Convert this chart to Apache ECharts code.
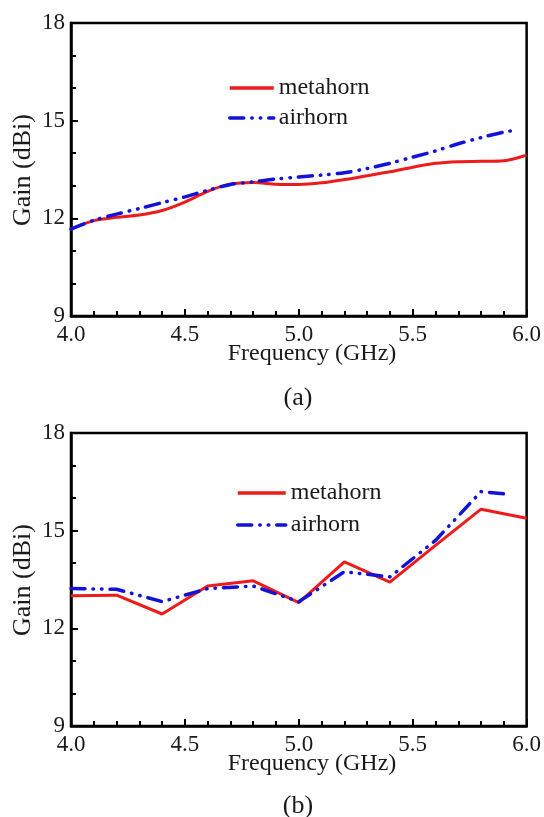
<!DOCTYPE html>
<html>
<head>
<meta charset="utf-8">
<script src="https://cdn.jsdelivr.net/npm/echarts@6/dist/echarts.min.js"></script>
<style>html,body{margin:0;padding:0;background:#fff}#c{width:544px;height:817px}</style>
</head>
<body>
<div id="c"></div>
<script>
// ---- data ----
const freqA    = [4.0,4.1,4.2,4.3,4.4,4.5,4.6,4.7,4.8,4.9,5.0,5.1,5.2,5.3,5.4,5.5,5.6,5.7,5.8,5.9,6.0];
const metaA    = [11.67,11.93,12.03,12.10,12.24,12.50,12.83,13.05,13.10,13.05,13.04,13.09,13.19,13.31,13.43,13.57,13.69,13.74,13.75,13.77,13.94];
const airFreqA = [4.0,4.1,4.2,4.3,4.4,4.5,4.6,4.7,4.8,4.9,5.0,5.1,5.2,5.3,5.4,5.5,5.6,5.7,5.8,5.9,5.95];
const airA     = [11.67,11.94,12.13,12.30,12.48,12.66,12.86,13.04,13.12,13.21,13.27,13.33,13.40,13.53,13.69,13.88,14.07,14.29,14.48,14.65,14.70];
const freqB    = [4.0,4.2,4.4,4.6,4.8,5.0,5.2,5.4,5.6,5.8,6.0];
const metaB    = [13.00,13.02,12.44,13.30,13.46,12.79,14.04,13.42,14.55,15.66,15.38];
const airFreqB = [4.0,4.2,4.4,4.6,4.8,5.0,5.2,5.4,5.6,5.8,5.9];
const airB     = [13.22,13.20,12.82,13.22,13.30,12.82,13.74,13.58,14.70,16.20,16.13];
const xTicks = {min:4.0, max:6.0, step:0.5};
const yTicks = {min:9, max:18, step:3};
const seriesNames = ['metahorn','airhorn'];

const pair = (xs, ys) => xs.map((x,i)=>[x, ys[i]]);
const FONT = 'Liberation Serif, Times New Roman, serif';
const TXT = '#1a1a1a';
const RED = '#ee1b1b';
const BLUE = '#1212d8';

function xAx(gi){
  return {type:'value', gridIndex:gi, min:xTicks.min, max:xTicks.max, interval:xTicks.step,
    axisLine:{onZero:false, lineStyle:{color:'#000', width:2.5}},
    axisTick:{inside:true, length:7, lineStyle:{color:'#000', width:2}},
    minorTick:{show:true, splitNumber:5, length:5, lineStyle:{color:'#000', width:2}},
    splitLine:{show:false},
    axisLabel:{fontFamily:FONT, fontSize:23, color:TXT, margin:7, formatter:v=>v.toFixed(1)}};
}
function yAx(gi){
  return {type:'value', gridIndex:gi, min:yTicks.min, max:yTicks.max, interval:yTicks.step,
    axisLine:{show:true, onZero:false, lineStyle:{color:'#000', width:2.5}},
    axisTick:{show:true, inside:true, length:7, lineStyle:{color:'#000', width:2}},
    minorTick:{show:true, splitNumber:3, length:5, lineStyle:{color:'#000', width:2}},
    splitLine:{show:false},
    axisLabel:{fontFamily:FONT, fontSize:23, color:TXT, margin:6}};
}
const redStyle = {color:RED, width:3, type:'solid'};
const blueStyle = {color:BLUE, width:3.5, type:[14,8,0.5,8,0.5,8], cap:'round'};
const legendCommon = {orient:'vertical', padding:0, itemHeight:14,
  itemStyle:{color:'rgba(0,0,0,0)', borderWidth:0, opacity:0},
  lineStyle:{width:3.5},
  textStyle:{fontFamily:FONT, fontSize:24, color:TXT, lineHeight:24}};

const option = {
  animation:false,
  backgroundColor:'#fff',
  grid:[
    {left:71, top:23, width:456, height:293, show:true, borderColor:'#000', borderWidth:2.5, backgroundColor:'transparent'},
    {left:71, top:433, width:456, height:293, show:true, borderColor:'#000', borderWidth:2.5, backgroundColor:'transparent'}
  ],
  xAxis:[xAx(0), xAx(1)],
  yAxis:[yAx(0), yAx(1)],
  legend:[
    Object.assign({data:seriesNames, left:228, top:76, itemWidth:44, itemGap:6}, legendCommon),
    Object.assign({data:seriesNames, left:236, top:481, itemWidth:48, itemGap:8}, legendCommon)
  ],
  series:[
    {name:seriesNames[0], type:'line', xAxisIndex:0, yAxisIndex:0, data:pair(freqA, metaA), smooth:0.3, symbol:'none', lineStyle:redStyle, itemStyle:{color:RED}, z:3},
    {name:seriesNames[1], type:'line', xAxisIndex:0, yAxisIndex:0, data:pair(airFreqA, airA), smooth:0.3, symbol:'none', lineStyle:blueStyle, itemStyle:{color:BLUE}, z:4},
    {name:seriesNames[0], type:'line', xAxisIndex:1, yAxisIndex:1, data:pair(freqB, metaB), symbol:'none', lineStyle:redStyle, itemStyle:{color:RED}, z:3},
    {name:seriesNames[1], type:'line', xAxisIndex:1, yAxisIndex:1, data:pair(airFreqB, airB), symbol:'none', lineStyle:blueStyle, itemStyle:{color:BLUE}, z:4}
  ],
  graphic:[
    {type:'text', x:23, y:170, rotation:Math.PI/2, style:{text:'Gain (dBi)', font:'26px '+FONT, fill:TXT, textAlign:'center', textVerticalAlign:'middle'}},
    {type:'text', x:23, y:580, rotation:Math.PI/2, style:{text:'Gain (dBi)', font:'26px '+FONT, fill:TXT, textAlign:'center', textVerticalAlign:'middle'}},
    {type:'text', x:312, y:354, style:{text:'Frequency (GHz)', font:'24px '+FONT, fill:TXT, textAlign:'center', textVerticalAlign:'middle'}},
    {type:'text', x:298, y:398, style:{text:'(a)', font:'26px '+FONT, fill:TXT, textAlign:'center', textVerticalAlign:'middle'}},
    {type:'text', x:312, y:764, style:{text:'Frequency (GHz)', font:'24px '+FONT, fill:TXT, textAlign:'center', textVerticalAlign:'middle'}},
    {type:'text', x:298, y:806, style:{text:'(b)', font:'26px '+FONT, fill:TXT, textAlign:'center', textVerticalAlign:'middle'}}
  ]
};
const chart = echarts.init(document.getElementById('c'), null, {renderer:'canvas'});
chart.setOption(option);
</script>
</body>
</html>
